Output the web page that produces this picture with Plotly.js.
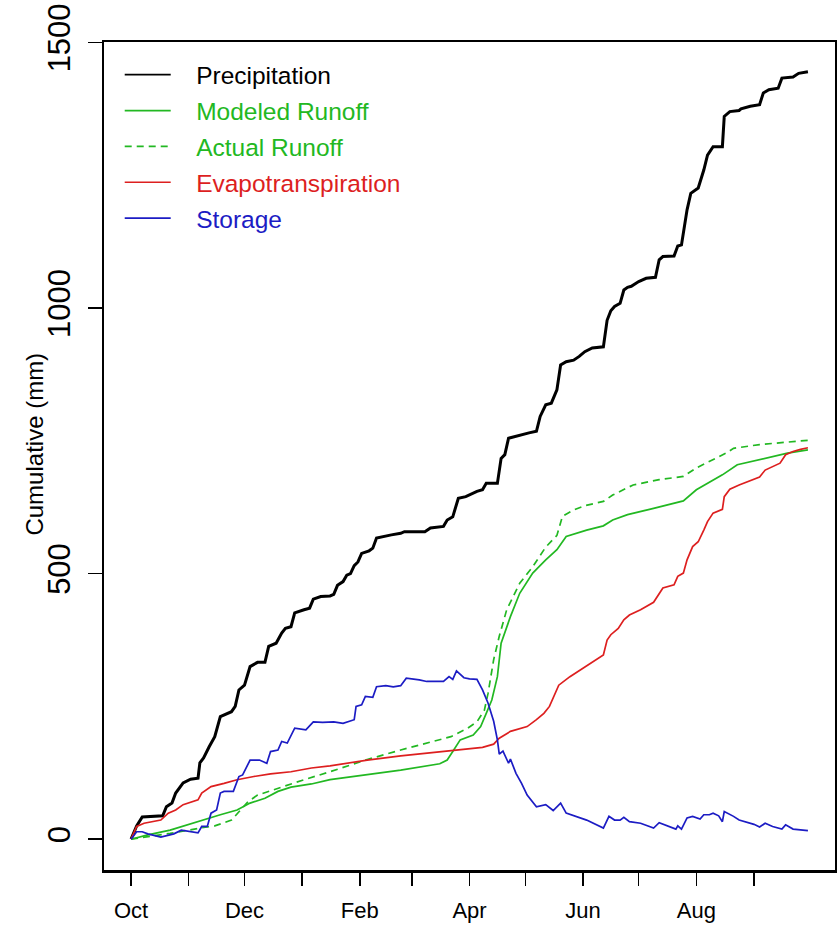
<!DOCTYPE html>
<html>
<head>
<meta charset="utf-8">
<script src="https://cdn.plot.ly/plotly-3.0.1.min.js"></script>
<style>html,body{margin:0;padding:0;background:#fff;}#chart{width:837px;height:927px;}</style>
</head>
<body>
<div id="chart"></div>
<script>
// Days since 1 October (water year), cumulative mm
const monthStartDays = [0,31,61,92,123,151,182,212,243,273,304,335];
const monthLabels = ['Oct','','Dec','','Feb','','Apr','','Jun','','Aug',''];
const yTicks = [0,500,1000,1500];
const seriesNames = ['Precipitation','Modeled Runoff','Actual Runoff','Evapotranspiration','Storage'];

const precipDays = [0,3,6,17,19,22,24,28,32,36,37,39,42,45,48,54,56,58,61,64,68,72,74,78,81,83,86,88,93,96,98,102,107,109,111,114,116,118,120,122,124,128,130,132,140,145,147,158,161,168,170,173,176,180,186,189,191,197,199,201,203,209,214,218,220,223,226,229,231,234,238,241,244,248,254,256,258,260,263,265,267,269,273,277,282,284,286,292,294,296,299,301,305,308,310,313,318,319,322,327,328,333,338,340,343,348,350,356,359,364];
const precipMm = [0,25,42,44,61,68,87,106,113,115,144,153,174,193,231,240,250,281,290,325,333,333,363,369,388,397,400,426,432,435,452,457,458,461,478,485,497,500,515,522,538,543,548,567,573,576,579,579,586,589,601,607,642,645,655,658,670,670,717,724,755,761,765,768,796,818,821,846,893,899,902,909,918,925,927,977,995,1003,1009,1034,1039,1041,1050,1056,1058,1091,1097,1098,1117,1119,1185,1216,1226,1260,1288,1304,1304,1361,1370,1372,1375,1380,1383,1405,1411,1414,1433,1435,1442,1445];

const modeledDays = [0,9,21,30,39,48,57,64,72,79,86,97,107,127,145,166,170,173,177,184,188,191,194,197,199,204,209,216,223,229,234,245,254,259,267,281,297,304,318,326,338,353,364];
const modeledMm = [0,8,17,27,36,46,55,68,77,90,98,104,112,121,130,142,149,165,187,196,212,237,262,306,369,419,463,501,526,545,570,582,590,601,611,623,637,658,686,705,715,727,733];

const actualDays = [0,21,39,45,54,59,63,68,79,93,107,127,145,163,172,181,186,190,192,195,198,202,209,216,223,229,232,238,244,254,259,270,284,297,304,320,324,338,364];
const actualMm = [0,11,22,25,36,55,71,83,96,112,127,150,168,184,193,209,221,243,275,338,382,432,482,513,550,572,608,620,628,636,648,667,677,683,699,727,736,743,751];

const etDays = [0,3,7,16,20,24,28,34,36,38,43,50,57,66,75,86,97,107,127,145,162,177,189,195,198,204,213,218,222,225,230,236,243,247,254,256,258,262,265,268,274,281,284,286,292,294,297,299,302,305,308,310,313,318,319,322,327,331,338,341,345,349,352,356,360,364];
const etMm = [0,24,30,36,49,55,65,71,74,87,99,105,112,118,123,127,134,138,149,157,163,168,173,179,190,203,212,225,237,250,290,306,322,331,347,375,385,397,413,422,432,446,463,473,479,495,501,526,551,560,582,598,614,621,645,659,667,673,682,695,702,708,724,730,734,737];

const storageDays = [0,3,6,9,16,20,23,27,32,36,38,41,43,46,48,50,55,58,60,64,69,73,75,79,81,84,88,91,94,98,103,109,114,120,121,124,126,130,132,137,141,145,148,155,159,168,171,173,175,179,182,186,189,192,195,197,198,200,203,204,207,210,213,218,223,227,231,234,241,245,254,257,260,263,265,268,274,281,284,290,293,294,296,299,302,306,308,311,313,316,318,319,324,327,335,338,341,345,350,352,356,364];
const storageMm = [0,14,14,10,4,8,10,17,14,12,24,24,49,55,87,90,90,118,121,149,149,143,165,168,184,181,209,208,206,221,220,221,218,225,250,253,269,267,287,289,287,289,303,300,297,297,306,301,317,304,302,301,281,256,222,187,160,166,143,151,124,105,83,61,65,54,68,49,40,36,21,43,36,36,41,33,30,21,31,24,19,25,19,40,43,38,46,46,49,44,33,52,43,36,28,23,30,24,19,27,19,16];

const BLACK = '#000000', GREEN = '#22b822', RED = '#dd1f1f', BLUE = '#1c1cc4';
const FONT = 'Liberation Sans, Arial, Helvetica, sans-serif';
const PAD = '\u00a0\u00a0\u00a0';

function legendName(name, color) {
  return '<span style="color:' + color + '">' + PAD + name + '</span>';
}

const traces = [
  // data traces
  {x: precipDays, y: precipMm, name: seriesNames[0], showlegend: false, line: {color: BLACK, width: 3}},
  {x: modeledDays, y: modeledMm, name: legendName(seriesNames[1], GREEN), legendrank: 2, line: {color: GREEN, width: 1.7}},
  {x: actualDays, y: actualMm, name: legendName(seriesNames[2], GREEN), legendrank: 3, line: {color: GREEN, width: 1.7, dash: '7px,5px'}},
  {x: etDays, y: etMm, name: legendName(seriesNames[3], RED), legendrank: 4, line: {color: RED, width: 1.7}},
  {x: storageDays, y: storageMm, name: legendName(seriesNames[4], BLUE), legendrank: 5, line: {color: BLUE, width: 1.7}},
  // legend key for precipitation drawn with a thin line, as in the original
  {x: [null], y: [null], name: legendName(seriesNames[0], BLACK), legendrank: 1, line: {color: BLACK, width: 1.7}}
].map((t, i) => Object.assign({type: 'scatter', mode: 'lines', legendgroup: 'g' + i, hoverinfo: 'skip'}, t));

const layout = {
  width: 837, height: 927,
  margin: {l: 104, r: 2, t: 42, b: 57},
  paper_bgcolor: '#fff', plot_bgcolor: '#fff',
  font: {family: FONT, color: '#000'},
  showlegend: true,
  legend: {
    x: 0.0215, y: 0.9876, xanchor: 'left', yanchor: 'top',
    bgcolor: 'rgba(0,0,0,0)', borderwidth: 0,
    font: {family: FONT, size: 24.5, color: '#000'},
    itemwidth: 46, tracegroupgap: 1, traceorder: 'grouped'
  },
  xaxis: {
    range: [-14.56, 378.56], tickmode: 'array', tickvals: monthStartDays, ticktext: monthLabels,
    ticks: 'outside', ticklen: 13, tickwidth: 1.5, tickcolor: '#000', ticklabelstandoff: 6,
    showline: true, mirror: true, linewidth: 2.5, linecolor: '#000',
    showgrid: false, zeroline: false, tickfont: {family: FONT, size: 22, color: '#000'}
  },
  yaxis: {
    range: [-58, 1501], tickmode: 'array', tickvals: yTicks, ticktext: yTicks.map(String),
    tickangle: -90, ticks: 'outside', ticklen: 14, tickwidth: 1.5, tickcolor: '#000', ticklabelstandoff: 5,
    showline: true, mirror: true, linewidth: 2.5, linecolor: '#000',
    showgrid: false, zeroline: false, tickfont: {family: FONT, size: 31, color: '#000'}
  },
  annotations: [{
    text: 'Cumulative (mm)', xref: 'paper', yref: 'paper', x: -0.0944, y: 0.515,
    xanchor: 'center', yanchor: 'middle', textangle: -90, showarrow: false,
    font: {family: FONT, size: 24, color: '#000'}
  }]
};

Plotly.newPlot('chart', traces, layout, {displayModeBar: false, staticPlot: true});
</script>
</body>
</html>
